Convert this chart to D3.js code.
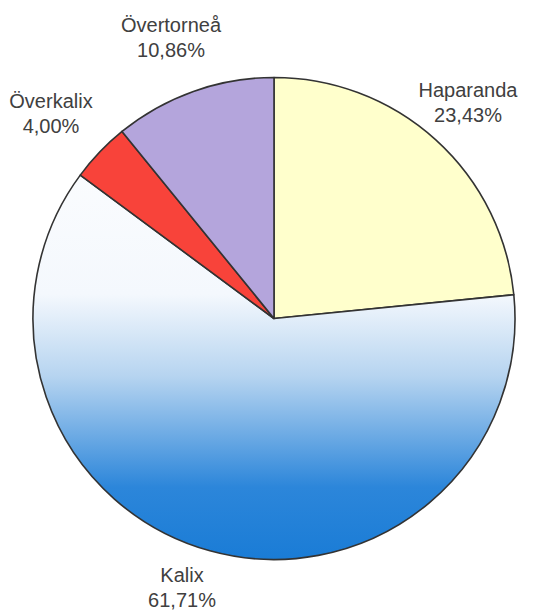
<!DOCTYPE html>
<html>
<head>
<meta charset="utf-8">
<script src="https://cdn.jsdelivr.net/npm/d3@7"></script>
<style>
  body { margin: 0; background: #fff; }
  text { font-family: "Liberation Sans", Arial, sans-serif; fill: #404040; }
</style>
</head>
<body>
<svg id="chart" width="545" height="613"></svg>
<script>
// data
var names = ["Haparanda", "Kalix", "Överkalix", "Övertorneå"];
var shares = [23.43, 61.71, 4.00, 10.86];
var labels = ["23,43%", "61,71%", "4,00%", "10,86%"];

var svg = d3.select("#chart"),
    cx = 274, cy = 318.5, r = 241;

var colors = d3.scaleOrdinal()
    .domain(names)
    .range(["#ffffcc", "url(#kalixGrad)", "#f8433a", "#b4a5dc"]);

// Kalix slice fades white -> blue from top to bottom
// (coords are in the translated group's space, so centred on 0)
var grad = svg.append("defs").append("linearGradient")
    .attr("id", "kalixGrad")
    .attr("gradientUnits", "userSpaceOnUse")
    .attr("x1", 0).attr("x2", 0)
    .attr("y1", -r).attr("y2", r);
grad.append("stop").attr("offset", "0").attr("stop-color", "#ffffff");
grad.append("stop").attr("offset", "0.45").attr("stop-color", "#f4f8fd");
grad.append("stop").attr("offset", "0.62").attr("stop-color", "#b6d4f0");
grad.append("stop").attr("offset", "0.85").attr("stop-color", "#2c86da");
grad.append("stop").attr("offset", "1").attr("stop-color", "#1a7cd6");

var pie = d3.pie().sort(null).value(function (d) { return d; });
var arc = d3.arc().innerRadius(0).outerRadius(r);
var arcs = pie(shares);

var g = svg.append("g").attr("transform", "translate(" + cx + "," + cy + ")");

g.selectAll("path")
    .data(arcs)
    .enter()
    .append("path")
    .attr("d", arc)
    .attr("fill", function (d, i) { return colors(names[i]); })
    .attr("stroke", "#333")
    .attr("stroke-width", 1.6)
    .attr("stroke-linejoin", "round");

// label positions (outside the pie, placed like the original)
var labelPos = [[468, 97], [182, 582], [51, 108], [171, 32]];

var lbl = svg.selectAll(".lbl")
    .data(arcs)
    .enter()
    .append("text")
    .attr("class", "lbl")
    .attr("text-anchor", "middle")
    .style("font-size", "20px");

lbl.append("tspan")
    .attr("x", function (d, i) { return labelPos[i][0]; })
    .attr("y", function (d, i) { return labelPos[i][1]; })
    .text(function (d, i) { return names[i]; });

lbl.append("tspan")
    .attr("x", function (d, i) { return labelPos[i][0]; })
    .attr("y", function (d, i) { return labelPos[i][1] + 25; })
    .text(function (d, i) { return labels[i]; });
</script>
</body>
</html>
